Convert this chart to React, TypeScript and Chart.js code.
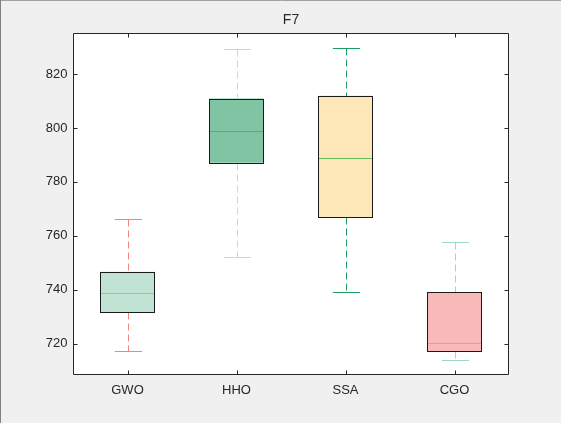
import React, { useEffect, useRef } from "react";
import { Chart, registerables } from "chart.js";

Chart.register(...registerables);

const title = "F7";
const categories = ["GWO", "HHO", "SSA", "CGO"];
const whiskerLow = [717.3, 752.1, 739.1, 714.1];
const q1 = [731.7, 787.1, 767.0, 717.3];
const median = [738.9, 798.8, 788.9, 720.2];
const q3 = [746.7, 810.9, 812.0, 739.0];
const whiskerHigh = [766.2, 829.3, 829.5, 757.7];
const yTicks = [720, 740, 760, 780, 800, 820];
const yMin = 708.4;
const yMax = 835.2;

const boxColors = ["#c1e3d3", "#80c4a3", "#fde7b9", "#f8b9b9"];
const whiskerColors = ["#f4857d", "#fad27c", "#1b9e5e", "#9fd8bc"];
const medianColors = ["#d9a89a", "#70a852", "#66bb5a", "#d6a294"];

const FONT = "'Liberation Sans', Arial, Helvetica, sans-serif";
const AXIS_COLOR = "#262626";

const bgPlugin = {
  id: "bgPlugin",
  beforeDraw(chart: any) {
    const { ctx, chartArea, width, height } = chart;
    ctx.save();
    ctx.fillStyle = "#f0f0f0";
    ctx.fillRect(0, 0, width, height);
    ctx.fillStyle = "#ffffff";
    ctx.fillRect(chartArea.left, chartArea.top, chartArea.right - chartArea.left, chartArea.bottom - chartArea.top);
    ctx.strokeStyle = "#a0a0a0";
    ctx.lineWidth = 1;
    ctx.beginPath();
    ctx.moveTo(0, 0.5);
    ctx.lineTo(width, 0.5);
    ctx.stroke();
    ctx.strokeStyle = "#808080";
    ctx.beginPath();
    ctx.moveTo(0.5, 0);
    ctx.lineTo(0.5, height);
    ctx.stroke();
    ctx.restore();
  },
};

const whiskerPlugin = {
  id: "whiskerPlugin",
  afterDatasetsDraw(chart: any) {
    const { ctx } = chart;
    const xs = chart.scales.x;
    const ys = chart.scales.y;
    const meta = chart.getDatasetMeta(0);
    const step = xs.getPixelForValue(1) - xs.getPixelForValue(0);
    const capHalf = step * 0.125;
    ctx.save();
    ctx.lineWidth = 1;
    categories.forEach((_, i) => {
      const x = Math.round(xs.getPixelForValue(i)) + 0.5;
      const yHi = Math.round(ys.getPixelForValue(whiskerHigh[i])) + 0.5;
      const yQ3 = Math.round(ys.getPixelForValue(q3[i])) + 0.5;
      const yQ1 = Math.round(ys.getPixelForValue(q1[i])) + 0.5;
      const yLo = Math.round(ys.getPixelForValue(whiskerLow[i])) + 0.5;
      const yMed = Math.round(ys.getPixelForValue(median[i])) + 0.5;
      ctx.strokeStyle = whiskerColors[i];
      ctx.setLineDash([7, 4]);
      ctx.beginPath();
      ctx.moveTo(x, yHi);
      ctx.lineTo(x, yQ3);
      ctx.stroke();
      ctx.beginPath();
      ctx.moveTo(x, yQ1);
      ctx.lineTo(x, yLo);
      ctx.stroke();
      ctx.setLineDash([]);
      ctx.beginPath();
      ctx.moveTo(x - capHalf, yHi);
      ctx.lineTo(x + capHalf, yHi);
      ctx.moveTo(x - capHalf, yLo);
      ctx.lineTo(x + capHalf, yLo);
      ctx.stroke();
      const bar = meta.data[i];
      const half = bar.width / 2;
      const bl = Math.round(bar.x - half) + 0.5;
      const br = Math.round(bar.x + half) - 0.5;
      ctx.strokeStyle = medianColors[i];
      ctx.beginPath();
      ctx.moveTo(bl, yMed);
      ctx.lineTo(br, yMed);
      ctx.stroke();
      ctx.strokeStyle = "#1a1a1a";
      ctx.strokeRect(bl, yQ3, br - bl, yQ1 - yQ3);
    });
    ctx.restore();
  },
};

const framePlugin = {
  id: "framePlugin",
  afterDraw(chart: any) {
    const { ctx, chartArea } = chart;
    const xs = chart.scales.x;
    const ys = chart.scales.y;
    const l = Math.round(chartArea.left) + 0.5;
    const r = Math.round(chartArea.right) - 0.5;
    const t = Math.round(chartArea.top) + 0.5;
    const b = Math.round(chartArea.bottom) - 0.5;
    const tl = 4;
    ctx.save();
    ctx.strokeStyle = AXIS_COLOR;
    ctx.lineWidth = 1;
    ctx.beginPath();
    ctx.rect(l, t, r - l, b - t);
    yTicks.forEach((v) => {
      const y = Math.round(ys.getPixelForValue(v)) + 0.5;
      ctx.moveTo(l, y);
      ctx.lineTo(l + tl, y);
      ctx.moveTo(r, y);
      ctx.lineTo(r - tl, y);
    });
    categories.forEach((_, i) => {
      const x = Math.round(xs.getPixelForValue(i)) + 0.5;
      ctx.moveTo(x, b);
      ctx.lineTo(x, b - tl);
      ctx.moveTo(x, t);
      ctx.lineTo(x, t + tl);
    });
    ctx.stroke();
    ctx.restore();
  },
};

export default function App() {
  const canvasRef = useRef<HTMLCanvasElement | null>(null);

  useEffect(() => {
    document.body.style.margin = "0";
    const canvas = canvasRef.current;
    if (!canvas) return;
    const chart = new Chart(canvas, {
      type: "bar",
      data: {
        labels: categories,
        datasets: [
          {
            data: categories.map((_, i) => [q1[i], q3[i]]),
            backgroundColor: boxColors,
            borderWidth: 0,
            barPercentage: 0.5,
            categoryPercentage: 1,
          } as any,
        ],
      },
      options: {
        animation: false,
        responsive: true,
        maintainAspectRatio: false,
        layout: { padding: { left: 0, right: 52, top: 0, bottom: 0 } },
        plugins: {
          legend: { display: false },
          tooltip: { enabled: false },
          title: {
            display: true,
            text: title,
            fullSize: false,
            color: AXIS_COLOR,
            font: { family: FONT, size: 14, weight: "normal" as any, lineHeight: 1.2 },
            padding: { top: 12, bottom: 4.2 },
          },
        },
        scales: {
          x: {
            offset: true,
            grid: { display: false, drawTicks: false },
            border: { display: false },
            ticks: {
              color: AXIS_COLOR,
              font: { family: FONT, size: 13 },
              padding: 8,
              maxRotation: 0,
            },
            afterFit(scale: any) {
              scale.height = 48;
            },
          },
          y: {
            min: yMin,
            max: yMax,
            grid: { display: false, drawTicks: false },
            border: { display: false },
            ticks: {
              color: AXIS_COLOR,
              font: { family: FONT, size: 13 },
              padding: 5.5,
            },
            afterBuildTicks(scale: any) {
              scale.ticks = yTicks.map((v) => ({ value: v }));
            },
            afterFit(scale: any) {
              scale.width = 73;
            },
          },
        },
      },
      plugins: [bgPlugin, whiskerPlugin, framePlugin],
    });
    return () => chart.destroy();
  }, []);

  return (
    <div style={{ position: "fixed", left: 0, top: 0, width: 561, height: 423 }}>
      <canvas ref={canvasRef} />
    </div>
  );
}
